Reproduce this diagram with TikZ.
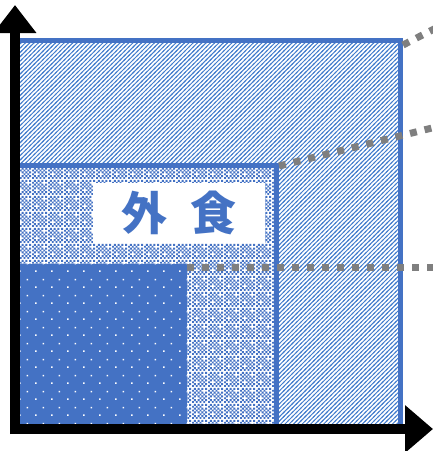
\documentclass[tikz,border=0pt]{standalone}
\usepackage{fontspec}
\usepackage{xcolor}
\usepackage{tikz}
\usetikzlibrary{patterns,arrows.meta}
\newfontfamily\jpfont{Noto Sans CJK JP}
\definecolor{boxblue}{RGB}{68, 114, 196}
\definecolor{lineblue}{RGB}{66, 124, 204}
\definecolor{leadergray}{RGB}{127, 127, 127}

% office-like fills
\pgfdeclarepatternformonly{updiag}{\pgfpoint{-1pt}{-1pt}}{\pgfpoint{5.3pt}{5.3pt}}{\pgfpoint{4.3pt}{4.3pt}}{
  \pgfsetlinewidth{0.95pt}
  \pgfpathmoveto{\pgfpoint{-1pt}{-1pt}}\pgfpathlineto{\pgfpoint{5.3pt}{5.3pt}}
  \pgfusepath{stroke}}
\pgfdeclarepatternformonly{checkcross}{\pgfpointorigin}{\pgfpoint{16pt}{16pt}}{\pgfpoint{16pt}{16pt}}{
  \foreach \i in {0,...,7}{\foreach \j in {0,...,7}{
    \pgfmathparse{int(mod(\i+\j,2)+(\i==2)*(\j==2)+(\i==6)*(\j==6))}
    \ifnum\pgfmathresult=0 \pgfpathrectangle{\pgfpoint{2*\i pt}{2*\j pt}}{\pgfpoint{2pt}{2pt}}\fi}}
  \pgfusepath{fill}}
\pgfdeclarepatternformonly{whitedots}{\pgfpointorigin}{\pgfpoint{16pt}{16pt}}{\pgfpoint{16pt}{16pt}}{
  \pgfpathrectangle{\pgfpoint{3.2pt}{3.2pt}}{\pgfpoint{1.7pt}{1.7pt}}
  \pgfpathrectangle{\pgfpoint{11.2pt}{11.2pt}}{\pgfpoint{1.7pt}{1.7pt}}
  \pgfusepath{fill}}

\begin{document}
\begin{tikzpicture}[x=1pt,y=-1pt,
  frame/.style={draw=boxblue,line width=4.5pt},
  leader/.style={draw=leadergray,line width=7pt,dash pattern=on 7pt off 8pt},
  axis/.style={black,line width=10pt}]
\useasboundingbox (0,0) rectangle (433,451);
\clip (0,0) rectangle (433,451);
% areas
\fill[pattern=updiag,pattern color=lineblue] (20,40) rectangle (401,424);
\draw[frame] (17,40.5) rectangle (400.5,427);
\fill[white] (20,165) rectangle (277,424);
\fill[pattern=checkcross,pattern color=boxblue] (20,165) rectangle (277,424);
\draw[frame] (17,165.5) rectangle (276.5,427);
\fill[boxblue] (20,264) rectangle (187,424);
\fill[pattern=whitedots,pattern color=white] (20,264) rectangle (187,424);
\node[fill=white,minimum width=172pt,minimum height=60pt,inner sep=0pt,text=boxblue,font=\jpfont\bfseries\fontsize{46}{46}\selectfont] (gaishoku) at (179,213) {外\hspace{23pt}食};
% leader lines
\coordinate (outerTR) at (403,45);
\coordinate (outerEnd) at (440,26);
\coordinate (middleTR) at (279,166);
\coordinate (middleEnd) at (440,126);
\coordinate (innerTR) at (187,267);
\coordinate (innerEnd) at (440,267);
\draw[leader] (outerTR) -- (outerEnd);
\draw[leader] (middleTR) -- (middleEnd);
\draw[leader] (innerTR) -- (innerEnd);
% axes
\draw[axis,-{Triangle[length=28pt,width=41pt]}] (15,434) -- (15,5);
\draw[axis,-{Triangle[length=28pt,width=46pt]}] (10,429) -- (433,429);
\end{tikzpicture}
\end{document}
